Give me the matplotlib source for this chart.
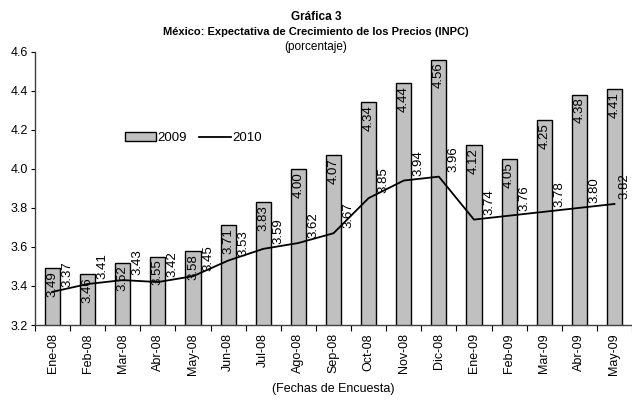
import matplotlib
matplotlib.use("Agg")
import matplotlib.pyplot as plt
from matplotlib.lines import Line2D
from matplotlib.patches import Patch
import numpy as np

plt.rcParams['font.family'] = ['Liberation Sans', 'DejaVu Sans']

categories = ["Ene-08", "Feb-08", "Mar-08", "Abr-08", "May-08", "Jun-08", "Jul-08",
              "Ago-08", "Sep-08", "Oct-08", "Nov-08", "Dic-08", "Ene-09", "Feb-09",
              "Mar-09", "Abr-09", "May-09"]
values_2009 = [3.49, 3.46, 3.52, 3.55, 3.58, 3.71, 3.83, 4.00, 4.07, 4.34, 4.44, 4.56,
               4.12, 4.05, 4.25, 4.38, 4.41]
values_2010 = [3.37, 3.41, 3.43, 3.42, 3.45, 3.53, 3.59, 3.62, 3.67, 3.85, 3.94, 3.96,
               3.74, 3.76, 3.78, 3.80, 3.82]
yticks = [3.2, 3.4, 3.6, 3.8, 4.0, 4.2, 4.4, 4.6]

fig = plt.figure(figsize=(6.32, 4.01), dpi=100)
ax = fig.add_axes([35/632, 1-325/401, 597/632, (325-51.7)/401])

x = np.arange(len(categories))
bars = ax.bar(x, values_2009, width=0.43, color="#C0C0C0", edgecolor="black",
              linewidth=1.0, zorder=2)
ax.plot(x, values_2010, color="black", linewidth=1.3, zorder=3)

for xi, v in zip(x, values_2009):
    ax.annotate(f"{v:.2f}", (xi, v), xytext=(0, -3), textcoords="offset pixels",
                rotation=90, ha="center", va="top", fontsize=9.5, zorder=4)
n = len(values_2010)
for i, (xi, v) in enumerate(zip(x, values_2010)):
    dx = 15 if i < n - 1 else 10
    ax.annotate(f"{v:.2f}", (xi, v), xytext=(dx, 5), textcoords="offset pixels",
                rotation=90, ha="center", va="bottom", fontsize=9.5, zorder=4,
                annotation_clip=False)

ax.set_xlim(-0.5, len(categories) - 0.5)
ax.set_ylim(3.2, 4.6)
ax.set_yticks(yticks)
ax.set_yticklabels([f"{t:.1f}" for t in yticks], fontsize=9)
ax.set_xticks(x)
ax.set_xticklabels(categories, rotation=90, fontsize=9)
ax.set_xticks(np.arange(len(categories) + 1) - 0.5, minor=True)
ax.tick_params(axis="x", which="major", length=0, pad=6)
ax.tick_params(axis="x", which="minor", length=4, width=0.8, direction="out")
ax.tick_params(axis="y", length=3, width=0.8, direction="out", pad=2)

for s in ["top", "right"]:
    ax.spines[s].set_visible(False)
for s in ["left", "bottom"]:
    ax.spines[s].set_color("#404040")
    ax.spines[s].set_linewidth(1.0)

ax.set_xlabel("(Fechas de Encuesta)", fontsize=9, labelpad=6)

handles = [Patch(facecolor="#C0C0C0", edgecolor="black", linewidth=1.0),
           Line2D([0], [0], color="black", linewidth=1.3)]
ax.legend(handles, ["2009", "2010"], ncol=2, frameon=False, fontsize=9.5,
          loc="center", bbox_to_anchor=(193/632, 1-138/401),
          bbox_transform=fig.transFigure, handlelength=2.4, handletextpad=0.1,
          columnspacing=0.9, handleheight=0.7)

fig.text(0.5, 1-17/401, "Gráfica 3", ha="center", va="center", fontsize=8.5,
         fontweight="bold")
fig.text(0.5, 1-32/401, "México: Expectativa de Crecimiento de los Precios (INPC)",
         ha="center", va="center", fontsize=8, fontweight="bold")
fig.text(0.5, 1-47/401, "(porcentaje)", ha="center", va="center", fontsize=8.5)

fig.savefig("out.png", dpi=100)
